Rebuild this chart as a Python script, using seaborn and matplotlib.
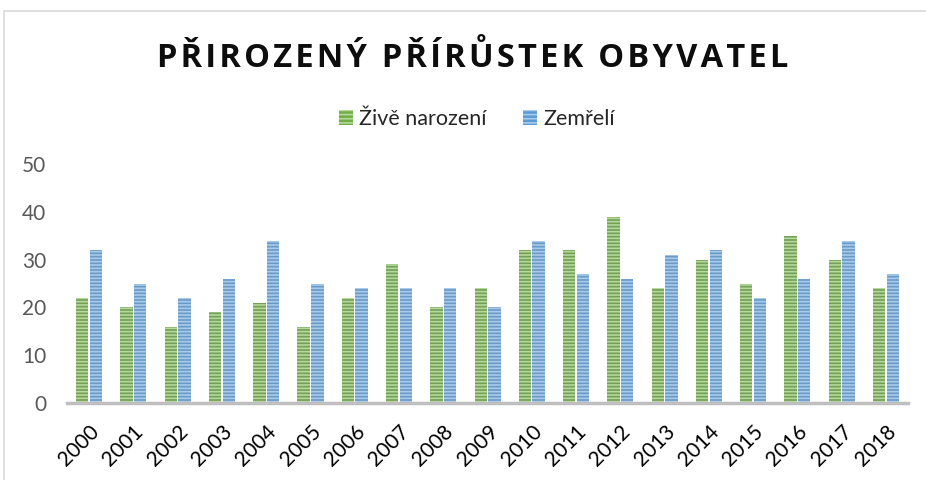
import seaborn as sns
import matplotlib.pyplot as plt
import pandas as pd
from matplotlib.patches import Rectangle

years = ['2000', '2001', '2002', '2003', '2004', '2005', '2006', '2007', '2008', '2009',
         '2010', '2011', '2012', '2013', '2014', '2015', '2016', '2017', '2018']
narozeni = [22, 20, 16, 19, 21, 16, 22, 29, 20, 24, 32, 32, 39, 24, 30, 25, 35, 30, 24]
zemreli = [32, 25, 22, 26, 34, 25, 24, 24, 24, 20, 34, 27, 26, 31, 32, 22, 26, 34, 27]
series = ['Živě narození', 'Zemřelí']

df = pd.DataFrame({
    'rok': years * 2,
    'pocet': narozeni + zemreli,
    'serie': [series[0]] * len(years) + [series[1]] * len(years),
})

sns.set_style('white')
plt.rcParams['font.family'] = ['Lato', 'DejaVu Sans']
plt.rcParams['hatch.linewidth'] = 1.2

colors = {'Živě narození': '#70AD47', 'Zemřelí': '#5B9BD5'}
stripes = {'Živě narození': '#B5D99C', 'Zemřelí': '#A9CBEB'}

fig = plt.figure(figsize=(9.26, 4.8), dpi=100)
ax = fig.add_axes([0.0724, 0.1604, 0.9082, 0.4976])

sns.barplot(data=df, x='rok', y='pocet', hue='serie', palette=colors,
            width=0.62, gap=0.1, ax=ax, legend=False)

# pruhované výplně
for cont, s in zip(ax.containers, series):
    for p in cont:
        p.set_hatch('-----')
        p.set_edgecolor(stripes[s])
        p.set_linewidth(0)

ax.set_ylim(0, 50)
ax.set_xlim(-0.5, len(years) - 0.5)
ax.set_yticks(range(0, 51, 10))
ax.set_xlabel('')
ax.set_ylabel('')
for sp in ['top', 'right', 'left']:
    ax.spines[sp].set_visible(False)
ax.spines['bottom'].set_color('#BFBFBF')
ax.spines['bottom'].set_linewidth(2.5)
ax.tick_params(axis='y', length=0, labelsize=15, labelcolor='#595959', pad=15)
ax.tick_params(axis='x', length=0, labelsize=15, labelcolor='black', pad=13)
plt.setp(ax.get_xticklabels(), rotation=45, ha='right', rotation_mode='anchor')

# legenda
handles = []
for s in series:
    h = Rectangle((0, 0), 1, 1, facecolor=colors[s], edgecolor=stripes[s], hatch='----', linewidth=0)
    handles.append(h)
fig.legend(handles, series, loc='center', bbox_to_anchor=(0.515, 0.752), ncol=2, frameon=False,
           fontsize=15.5, handlelength=0.65, handleheight=0.65, handletextpad=0.3, columnspacing=1.7)

# nadpis s proloženými písmeny
title = 'PŘIROZENÝ PŘÍRŮSTEK OBYVATEL'
spaced = '\u200a \u200a'.join('\u200a'.join(w) for w in title.split(' '))
fig.text(0.511, 0.878, spaced, ha='center', va='center', fontsize=23.5, fontweight='bold', color='#0D0D0D',
         family=['Open Sans', 'DejaVu Sans'])

# rámeček grafu
fig.patches.append(Rectangle((4 / 926, -0.1), 1.2, 1 - 11 / 480 + 0.1, transform=fig.transFigure,
                             fill=False, edgecolor='#D9D9D9', linewidth=1.2))

fig.savefig('out.png', dpi=100)
